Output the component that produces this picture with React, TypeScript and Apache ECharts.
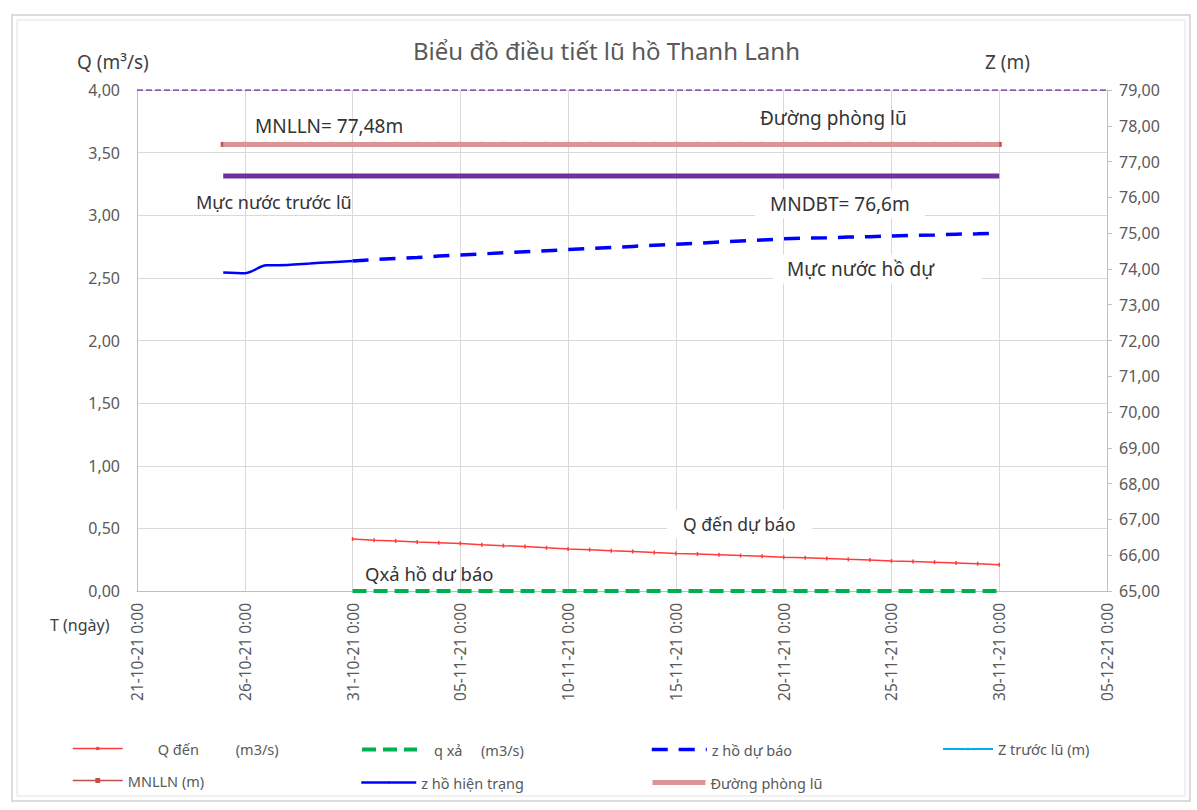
import React, { useEffect, useRef } from "react";
import * as echarts from "echarts";

const FONT = "'Noto Sans', 'Open Sans', sans-serif";

// ---- axis definitions ----
const X_ORIGIN = "21-10-21";
const X_MAX_DAYS = 45;
const X_STEP_DAYS = 5;
const Q_MIN = 0;
const Q_MAX = 4;
const Q_STEP = 0.5;
const Z_MIN = 65;
const Z_MAX = 79;
const Z_STEP = 1;

// ---- observed reservoir level (z hồ hiện trạng) ----
const currentDates = ["25-10-21", "26-10-21", "27-10-21", "28-10-21", "29-10-21", "30-10-21", "31-10-21"];
const zCurrent = [73.9, 73.88, 74.1, 74.11, 74.15, 74.19, 74.22];

// ---- forecast period ----
const forecastDates = [
  "31-10-21", "01-11-21", "02-11-21", "03-11-21", "04-11-21", "05-11-21", "06-11-21", "07-11-21",
  "08-11-21", "09-11-21", "10-11-21", "11-11-21", "12-11-21", "13-11-21", "14-11-21", "15-11-21",
  "16-11-21", "17-11-21", "18-11-21", "19-11-21", "20-11-21", "21-11-21", "22-11-21", "23-11-21",
  "24-11-21", "25-11-21", "26-11-21", "27-11-21", "28-11-21", "29-11-21", "30-11-21",
];
const zForecast = [
  74.22, 74.26, 74.29, 74.32, 74.36, 74.39, 74.42, 74.45, 74.48, 74.51, 74.54, 74.57, 74.6, 74.63,
  74.66, 74.69, 74.72, 74.75, 74.78, 74.81, 74.84, 74.86, 74.87, 74.89, 74.9, 74.92, 74.94, 74.95,
  74.97, 74.98, 75.0,
];
const qInflow = [
  0.415, 0.405, 0.4, 0.392, 0.386, 0.38, 0.37, 0.362, 0.355, 0.345, 0.336, 0.33, 0.322, 0.315, 0.307,
  0.3, 0.295, 0.29, 0.283, 0.277, 0.27, 0.265, 0.26, 0.253, 0.247, 0.24, 0.235, 0.23, 0.224, 0.218,
  0.21,
];
const qRelease = [
  0, 0, 0, 0, 0, 0, 0, 0, 0, 0, 0, 0, 0, 0, 0, 0, 0, 0, 0, 0, 0, 0, 0, 0, 0, 0, 0, 0, 0, 0, 0,
];

// ---- reference levels ----
const MNLLN_LEVEL = 77.48; // Đường phòng lũ / MNLLN
const MNDBT_LEVEL = 76.6;
const TOP_LEVEL = 79;
const levelDates = [...currentDates.slice(0, -1), ...forecastDates];

// ---- series names ----
const N_Q = "Q đến (m3/s)";
const N_QX = "q xả (m3/s)";
const N_ZDB = "z hồ dự báo";
const N_ZTL = "Z trước lũ (m)";
const N_MNLLN = "MNLLN (m)";
const N_ZHT = "z hồ hiện trạng";
const N_DPL = "Đường phòng lũ";

const DAY = 86400000;
function parseDate(s: string): number {
  const [d, m, y] = s.split("-").map(Number);
  return Date.UTC(2000 + y, m - 1, d);
}
const ORIGIN = parseDate(X_ORIGIN);
const dayIdx = (s: string) => (parseDate(s) - ORIGIN) / DAY;
const pair = (dates: string[], vals: number[]) => dates.map((d, i) => [dayIdx(d), vals[i]]);
const pad2 = (n: number) => (n < 10 ? "0" + n : "" + n);
const fmtDay = (v: number) => {
  const dt = new Date(ORIGIN + Math.round(v) * DAY);
  return `${pad2(dt.getUTCDate())}-${pad2(dt.getUTCMonth() + 1)}-${pad2(dt.getUTCFullYear() % 100)} 0:00`;
};
const fmtNum = (v: number) => v.toFixed(2).replace(".", ",");

const AXIS_TXT = { color: "#595959", fontSize: 16, fontFamily: FONT };
const LEG_TXT = { color: "#595959", fontSize: 14.5, fontFamily: FONT };
const NOTE = { fill: "#333333", fontSize: 19, fontFamily: FONT };

export default function App() {
  const ref = useRef<HTMLDivElement>(null);
  useEffect(() => {
    const chart = echarts.init(ref.current!, null, { renderer: "svg" });
    const legendItem = (
      name: string,
      left: number,
      centerY: number,
      w: number,
      h: number,
      lineWidth: number,
      extra: any = {}
    ) => ({
      data: [name],
      left,
      top: centerY - h / 2,
      padding: 0,
      itemWidth: w,
      itemHeight: h,
      selectedMode: false,
      lineStyle: { width: lineWidth },
      textStyle: { ...LEG_TXT, ...(extra.textStyle || {}) },
      ...(extra.formatter ? { formatter: extra.formatter } : {}),
    });
    const ROW1 = 743;
    const ROW2 = 776;
    const option: any = {
      animation: false,
      backgroundColor: "#ffffff",
      title: {
        text: "Biểu đồ điều tiết lũ hồ Thanh Lanh",
        left: 413,
        top: 38,
        padding: 0,
        textStyle: { color: "#595959", fontSize: 24, fontWeight: "normal", fontFamily: FONT },
      },
      grid: { left: 137, right: 90, top: 90, bottom: 219, containLabel: false },
      xAxis: {
        type: "value",
        min: 0,
        max: X_MAX_DAYS,
        interval: X_STEP_DAYS,
        axisLine: { show: true, lineStyle: { color: "#BFBFBF" } },
        axisTick: { show: false },
        splitLine: { show: true, lineStyle: { color: "#D9D9D9" } },
        axisLabel: { ...AXIS_TXT, fontSize: 15.5, rotate: 90, margin: 12, formatter: fmtDay },
      },
      yAxis: [
        {
          type: "value",
          min: Q_MIN,
          max: Q_MAX,
          interval: Q_STEP,
          axisLine: { show: true, lineStyle: { color: "#BFBFBF" } },
          axisTick: { show: false },
          splitLine: { show: true, lineStyle: { color: "#D9D9D9" } },
          axisLabel: { ...AXIS_TXT, margin: 17, formatter: fmtNum },
        },
        {
          type: "value",
          position: "right",
          min: Z_MIN,
          max: Z_MAX,
          interval: Z_STEP,
          axisLine: { show: true, lineStyle: { color: "#BFBFBF" } },
          axisTick: { show: true, length: 5, lineStyle: { color: "#BFBFBF" } },
          splitLine: { show: false },
          axisLabel: { ...AXIS_TXT, margin: 12, formatter: fmtNum },
        },
      ],
      legend: [
        legendItem(N_Q, 72, ROW1, 50, 4, 1.5, {
          formatter: () => "{g|}{a|Q đến}{b|(m3/s)}",
          textStyle: { rich: { g: { width: 30 }, a: { width: 78 }, b: {} } },
        }),
        legendItem(N_QX, 360, ROW1, 55, 2, 4, {
          formatter: () => "{g|}{a|q xả}{b|(m3/s)}",
          textStyle: { rich: { g: { width: 12 }, a: { width: 47 }, b: {} } },
        }),
        legendItem(N_ZDB, 650, ROW1, 55, 2, 3.5),
        legendItem(N_ZTL, 942, ROW1, 50, 3, 2),
        legendItem(N_MNLLN, 72, ROW2, 50, 6, 1.5),
        legendItem(N_ZHT, 360, ROW2, 55, 2, 2.5),
        legendItem(N_DPL, 650, ROW2, 53, 2, 5),
      ],
      series: [
        {
          name: "top",
          type: "line",
          yAxisIndex: 1,
          data: [[0, TOP_LEVEL], [X_MAX_DAYS, TOP_LEVEL]],
          symbol: "none",
          lineStyle: { color: "#7030A0", width: 1.5, type: [6, 3] },
          z: 3,
        },
        {
          name: N_MNLLN,
          type: "line",
          yAxisIndex: 1,
          data: levelDates.map((d) => [dayIdx(d), MNLLN_LEVEL]),
          symbol: "rect",
          symbolSize: 5,
          itemStyle: { color: "#C0504D" },
          lineStyle: { color: "#C0504D", width: 1.5 },
          z: 2,
        },
        {
          name: N_DPL,
          type: "line",
          yAxisIndex: 1,
          data: levelDates.map((d) => [dayIdx(d), MNLLN_LEVEL]),
          symbol: "none",
          itemStyle: { color: "#D99694" },
          lineStyle: { color: "#D99694", width: 5 },
          z: 3,
        },
        {
          name: "MNDBT",
          type: "line",
          yAxisIndex: 1,
          data: [[dayIdx(levelDates[0]), MNDBT_LEVEL], [dayIdx(levelDates[levelDates.length - 1]), MNDBT_LEVEL]],
          symbol: "none",
          lineStyle: { color: "#7030A0", width: 5 },
          z: 3,
        },
        {
          name: N_ZTL,
          type: "line",
          yAxisIndex: 1,
          data: [],
          symbol: "rect",
          symbolSize: 3,
          itemStyle: { color: "#00B0F0" },
          lineStyle: { color: "#00B0F0", width: 2 },
        },
        {
          name: N_ZHT,
          type: "line",
          yAxisIndex: 1,
          data: pair(currentDates, zCurrent),
          symbol: "none",
          smooth: 0.3,
          itemStyle: { color: "#0000FF" },
          lineStyle: { color: "#0000FF", width: 2.5 },
          z: 4,
        },
        {
          name: N_ZDB,
          type: "line",
          yAxisIndex: 1,
          data: pair(forecastDates, zForecast),
          symbol: "none",
          itemStyle: { color: "#0000FF" },
          lineStyle: { color: "#0000FF", width: 3.5, type: [16, 11] },
          z: 4,
        },
        {
          name: N_Q,
          type: "line",
          yAxisIndex: 0,
          data: pair(forecastDates, qInflow),
          symbol: "rect",
          symbolSize: [1.5, 4],
          itemStyle: { color: "#FF3B3B" },
          lineStyle: { color: "#FF3B3B", width: 1.5 },
          z: 4,
        },
        {
          name: N_QX,
          type: "line",
          yAxisIndex: 0,
          data: pair(forecastDates, qRelease),
          symbol: "none",
          itemStyle: { color: "#00B050" },
          lineStyle: { color: "#00B050", width: 4, type: [14, 7] },
          z: 4,
        },
      ],
      graphic: [
        // chart frame
        { type: "rect", shape: { x: 12, y: 15, width: 1178, height: 786 }, style: { fill: "none", stroke: "#CFCFCF", lineWidth: 1.5 }, silent: true, z: -1 },
        { type: "rect", shape: { x: 17, y: 20, width: 1168, height: 776 }, style: { fill: "none", stroke: "#E3E3E3", lineWidth: 1 }, silent: true, z: -1 },
        // axis titles
        { type: "text", x: 77, y: 62, style: { text: "Q (m³/s)", fill: "#404040", fontSize: 19, fontFamily: FONT, verticalAlign: "middle" } },
        { type: "text", x: 985, y: 62, style: { text: "Z (m)", fill: "#404040", fontSize: 19, fontFamily: FONT, verticalAlign: "middle" } },
        { type: "text", x: 50, y: 625, style: { text: "T (ngày)", fill: "#404040", fontSize: 16, fontFamily: FONT, verticalAlign: "middle" } },
        // annotations
        { type: "text", x: 255, y: 126, z: 10, style: { ...NOTE, text: "MNLLN= 77,48m", verticalAlign: "middle" } },
        { type: "text", x: 760, y: 118, z: 10, style: { ...NOTE, text: "Đường phòng lũ", verticalAlign: "middle" } },
        { type: "text", x: 196, y: 202, z: 10, style: { ...NOTE, fontSize: 18, text: "Mực nước trước lũ", verticalAlign: "middle" } },
        { type: "text", x: 755, y: 204, z: 10, style: { ...NOTE, text: "MNDBT= 76,6m", verticalAlign: "middle", backgroundColor: "#ffffff", padding: [5, 15, 5, 15] } },
        { type: "text", x: 773, y: 269, z: 10, style: { ...NOTE, text: "Mực nước hồ dự", verticalAlign: "middle", backgroundColor: "#ffffff", padding: [5, 48, 5, 14] } },
        { type: "text", x: 667, y: 524, z: 10, style: { ...NOTE, fontSize: 17.5, text: "Q đến dự báo", verticalAlign: "middle", backgroundColor: "#ffffff", padding: [5, 17, 5, 16] } },
        { type: "text", x: 365, y: 573, z: 10, style: { ...NOTE, fontSize: 18.5, text: "Qxả hồ dư báo", verticalAlign: "middle" } },
      ],
    };
    chart.setOption(option);
    return () => chart.dispose();
  }, []);
  return <div ref={ref} style={{ position: "absolute", left: 0, top: 0, width: 1197, height: 810 }} />;
}
